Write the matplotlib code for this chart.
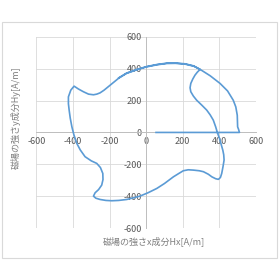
import matplotlib.pyplot as plt
from matplotlib.patches import Rectangle

plt.rcParams['font.family'] = ['Noto Sans CJK JP', 'DejaVu Sans']

# trajectory of the field vector
hx = [54, 510, 505, 500, 498, 490, 476, 445, 404, 350, 295, 260, 213, 160, 112, 60,
      3, -50, -107, -150, -197, -230, -252, -270, -288, -315, -343, -370, -394, -412,
      -425, -425, -421, -415, -406, -395, -379, -360, -334, -300, -270, -250, -237, -236,
      -243, -260, -279, -288, -275, -252, -220, -188, -150, -106, -70, -34, 10, 58, 100,
      149, 180, 203, 230, 258, 290, 313, 340, 359, 380, 395, 406, 413, 420, 426, 424,
      419, 410, 401, 389, 380, 367, 350, 331, 305, 276, 258, 244, 240, 244, 255, 267,
      280, 295, 260, 213, 160, 112, 60, 3, -50, -107, -150]
hy = [0, 0, 20, 35, 108, 160, 202, 260, 307, 355, 395, 415, 428, 433, 432, 424,
      411, 393, 370, 340, 296, 265, 248, 240, 236, 240, 255, 272, 290, 265,
      223, 180, 140, 90, 35, -15, -69, -110, -152, -178, -194, -220, -257, -295,
      -330, -358, -378, -399, -412, -420, -426, -428, -426, -420, -410, -399, -378, -351, -320,
      -278, -256, -240, -234, -236, -240, -246, -262, -278, -290, -294, -282, -257, -215, -173, -140,
      -111, -75, -38, 0, 35, 77, 110, 140, 170, 202, 228, 255, 280, 307, 335, 359,
      378, 395, 417, 430, 435, 434, 426, 413, 395, 372, 342]

ticks = [-600, -400, -200, 0, 200, 400, 600]

fig = plt.figure(figsize=(2.8, 2.8), dpi=100)
fig.patches.append(Rectangle((0.008, 0.078), 0.982, 0.845, transform=fig.transFigure,
                             fill=False, edgecolor='#D9D9D9', linewidth=0.8))
ax = fig.add_axes([0.13, 0.185, 0.784, 0.684])

ax.plot(hx, hy, color='#5B9BD5', linewidth=1.2, zorder=4)

ax.set_xlim(-600, 600)
ax.set_ylim(-600, 600)
ax.set_xticks(ticks)
ax.set_yticks(ticks)
ax.set_xticklabels([str(t) for t in ticks])
ax.set_yticklabels([str(t) for t in ticks])
ax.grid(True, color='#D9D9D9', linewidth=0.6)
ax.set_axisbelow(True)

for s in ['top', 'right']:
    ax.spines[s].set_visible(False)
for s in ['left', 'bottom']:
    ax.spines[s].set_position('zero')
    ax.spines[s].set_color('#BFBFBF')
    ax.spines[s].set_linewidth(0.7)
ax.tick_params(length=0, labelsize=6.5, labelcolor='#595959', pad=3)

fig.text(0.055, 0.58, '磁場の強さy成分Hy[A/m]', rotation=90, ha='center', va='center',
         fontsize=6.5, color='#7F7F7F')
fig.text(0.55, 0.138, '磁場の強さx成分Hx[A/m]', ha='center', va='center',
         fontsize=6.5, color='#7F7F7F')

fig.savefig('out.png', dpi=100)
